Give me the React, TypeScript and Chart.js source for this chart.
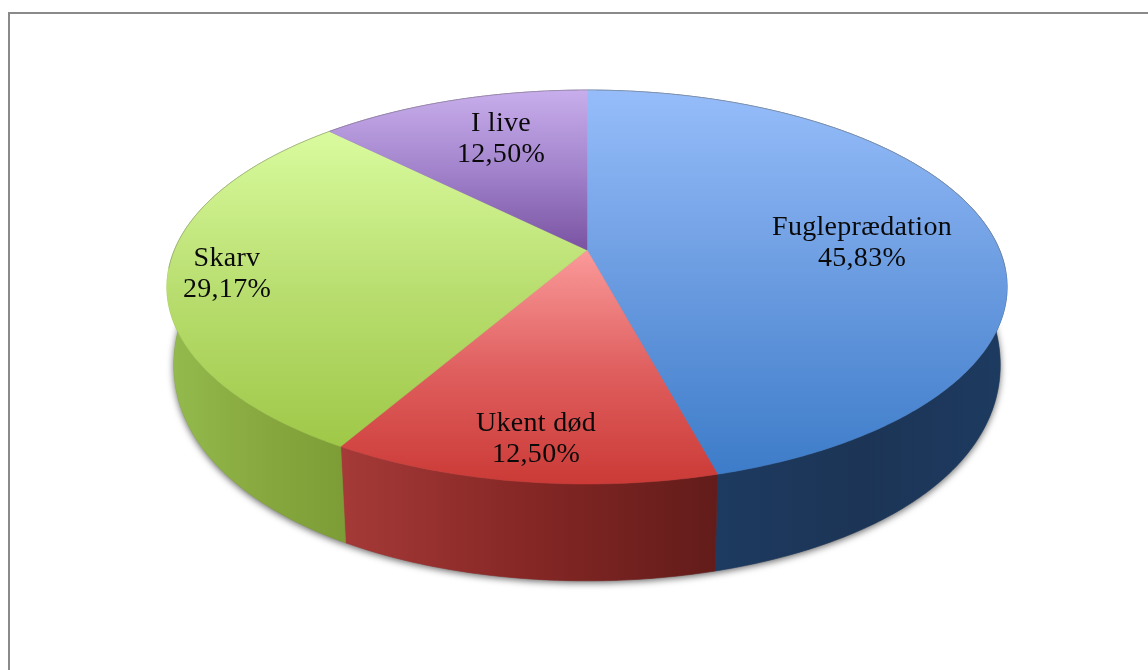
import React, { useEffect, useRef } from "react";
import { Chart, registerables } from "chart.js";

Chart.register(...registerables);

const categories = ["Fugleprædation", "Ukent død", "Skarv", "I live"];
const shares = [45.83, 12.5, 29.17, 12.5];
const shareLabels = ["45,83%", "12,50%", "29,17%", "12,50%"];

// style tables
const faceStops = [
  ["#96bdfa", "#6a9be0", "#3d7cc9"],
  ["#fb9a9a", "#e06060", "#cb3a36"],
  ["#d9fb9e", "#b9de70", "#9fc848"],
  ["#c8aeec", "#a283cc", "#7a53a2"],
];
const faceRange = [
  [90, 474],
  [250, 484],
  [132, 447],
  [90, 250],
];
const wallStops = [
  ["#1d3a60", "#1c3556", "#1d3a60"],
  ["#a53a38", "#852725", "#621c1a"],
  ["#94bb4e", "#88a93f", "#7c9c36"],
  ["#5a3b7a", "#5a3b7a", "#5a3b7a"],
];
const wallRange = [
  [714, 1007],
  [341, 717],
  [167, 347],
  [329, 587],
];
const labelCenters = [
  [862, 228],
  [536, 424],
  [227, 259],
  [501, 124],
];
const LINE_GAP = 31;
const FONT = '28px "Liberation Serif", serif';

// perspective of the disc, relative to the outer radius of the arc
type Surf = { rx: number; ry: number; dy: number; cx: number; cy: number };
const TOP: Surf = { rx: 1.6504, ry: 0.76, dy: 0, cx: -0.188, cy: -0.188 };
const BOTTOM: Surf = { rx: 1.625, ry: 0.934, dy: 0.2856, cx: -0.1835, cy: -0.1 };

function project(el: any, s: Surf, angle: number) {
  const u = Math.cos(angle);
  const v = Math.sin(angle);
  const R = el.outerRadius;
  return {
    x: el.x + (R * s.rx * u) / (1 + s.cx * v),
    y: el.y + R * s.dy + (R * s.ry * v) / (1 + s.cy * v),
  };
}

function tracePath(ctx: CanvasRenderingContext2D, el: any, s: Surf, a0: number, a1: number, move: boolean) {
  const n = Math.max(8, Math.ceil(Math.abs(a1 - a0) * 90));
  for (let i = 0; i <= n; i++) {
    const p = project(el, s, a0 + ((a1 - a0) * i) / n);
    if (i === 0 && move) ctx.moveTo(p.x, p.y);
    else ctx.lineTo(p.x, p.y);
  }
}

function grad3(ctx: CanvasRenderingContext2D, x0: number, y0: number, x1: number, y1: number, stops: string[]) {
  const g = ctx.createLinearGradient(x0, y0, x1, y1);
  g.addColorStop(0, stops[0]);
  g.addColorStop(0.5, stops[1]);
  g.addColorStop(1, stops[2]);
  return g;
}

const pie3d = {
  id: "pie3d",
  beforeDatasetsDraw(chart: any) {
    const ctx: CanvasRenderingContext2D = chart.ctx;
    const arcs = chart.getDatasetMeta(0).data;

    // frame
    ctx.save();
    ctx.strokeStyle = "#8a8a8a";
    ctx.lineWidth = 2;
    ctx.beginPath();
    ctx.moveTo(1148, 13);
    ctx.lineTo(9, 13);
    ctx.lineTo(9, 670);
    ctx.stroke();
    ctx.restore();

    // drop shadow of the lower rim
    ctx.save();
    ctx.shadowColor = "rgba(0,0,0,0.6)";
    ctx.shadowBlur = 7;
    ctx.shadowOffsetY = 2;
    ctx.fillStyle = "#777";
    ctx.beginPath();
    tracePath(ctx, arcs[0], BOTTOM, 0, Math.PI * 2, true);
    ctx.closePath();
    ctx.fill();
    ctx.restore();

    // walls
    arcs.forEach((el: any, i: number) => {
      ctx.save();
      ctx.fillStyle = grad3(ctx, wallRange[i][0], 0, wallRange[i][1], 0, wallStops[i]);
      ctx.beginPath();
      tracePath(ctx, el, TOP, el.startAngle, el.endAngle, true);
      tracePath(ctx, el, BOTTOM, el.endAngle, el.startAngle, false);
      ctx.closePath();
      ctx.fill();
      ctx.strokeStyle = ctx.fillStyle;
      ctx.lineWidth = 0.6;
      ctx.stroke();
      ctx.restore();
    });

    // top faces
    arcs.forEach((el: any, i: number) => {
      ctx.save();
      ctx.fillStyle = grad3(ctx, 0, faceRange[i][0], 0, faceRange[i][1], faceStops[i]);
      ctx.beginPath();
      ctx.moveTo(el.x, el.y);
      tracePath(ctx, el, TOP, el.startAngle, el.endAngle, false);
      ctx.closePath();
      ctx.fill();
      ctx.strokeStyle = ctx.fillStyle;
      ctx.lineWidth = 0.5;
      ctx.stroke();
      ctx.restore();
    });

    // thin grey rim on the far edge
    ctx.save();
    ctx.strokeStyle = "rgba(120,120,120,0.4)";
    ctx.lineWidth = 1;
    ctx.beginPath();
    tracePath(ctx, arcs[0], TOP, Math.PI * 0.97, Math.PI * 2.03, true);
    ctx.stroke();
    ctx.restore();

    // labels
    ctx.save();
    ctx.font = FONT;
    (ctx as any).letterSpacing = "0.3px";
    ctx.fillStyle = "#0a0a0a";
    ctx.textAlign = "center";
    ctx.textBaseline = "middle";
    arcs.forEach((_: any, i: number) => {
      ctx.fillText(categories[i], labelCenters[i][0], labelCenters[i][1]);
      ctx.fillText(shareLabels[i], labelCenters[i][0], labelCenters[i][1] + LINE_GAP);
    });
    ctx.restore();

    return false;
  },
};

export default function App() {
  const ref = useRef<HTMLCanvasElement>(null);
  useEffect(() => {
    const chart = new Chart(ref.current!, {
      type: "pie",
      data: {
        labels: categories,
        datasets: [{ data: shares, backgroundColor: faceStops.map((s) => s[1]), borderWidth: 0 }],
      },
      options: {
        responsive: false,
        animation: false,
        layout: { padding: { left: 26, bottom: 170 } },
        plugins: { legend: { display: false }, tooltip: { enabled: false } },
      },
      plugins: [pie3d],
    } as any);
    return () => chart.destroy();
  }, []);
  return (
    <canvas
      ref={ref}
      width={1148}
      height={670}
      style={{ position: "absolute", left: 0, top: 0, display: "block", background: "#fff" }}
    />
  );
}
